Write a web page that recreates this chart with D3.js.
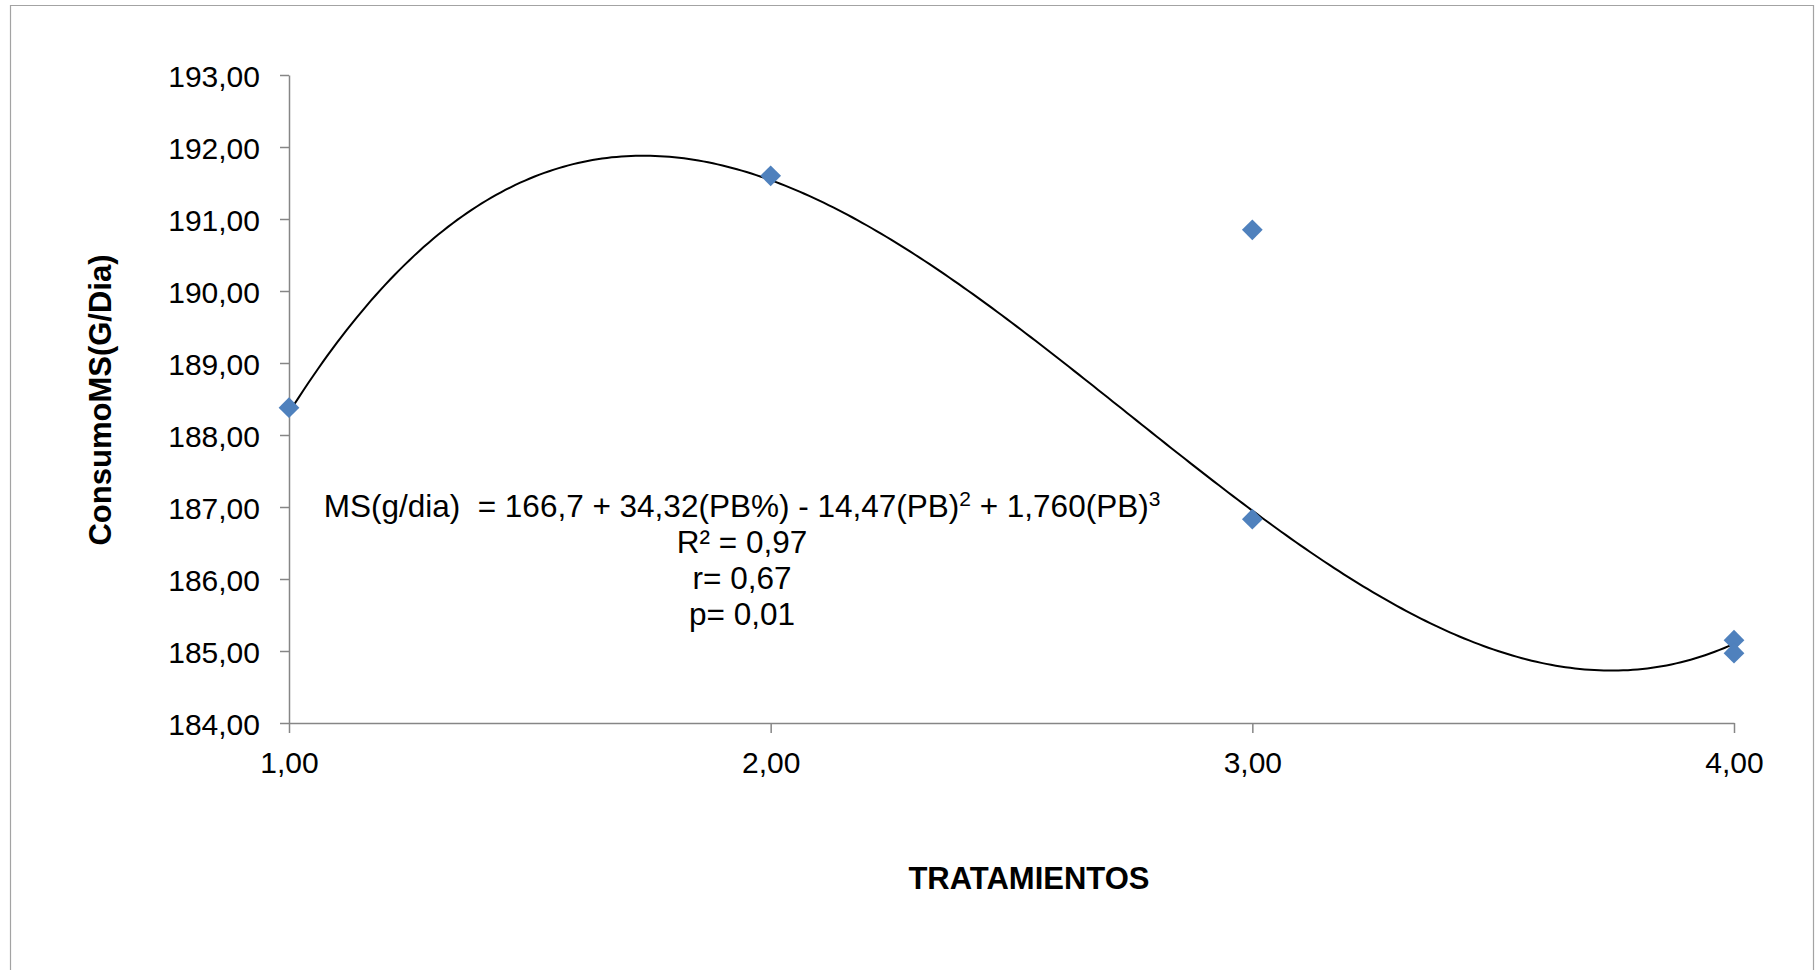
<!DOCTYPE html>
<html>
<head>
<meta charset="utf-8">
<script src="https://cdn.jsdelivr.net/npm/d3@7"></script>
<style>
  body { margin: 0; background: #fff; }
  svg { display: block; font-family: "Liberation Sans", Arial, sans-serif; }
</style>
</head>
<body>
<svg id="chart" width="1816" height="970"></svg>
<script>
// values
const tratamientos = [1, 2, 3, 3, 4, 4];
const consumoMS = [188.38, 191.60, 190.85, 186.83, 185.15, 184.97];
const xTicks = [1, 2, 3, 4];
const yTicks = [184, 185, 186, 187, 188, 189, 190, 191, 192, 193];
// cubic trend line, coefficients as printed on the chart (a + b*x + c*x^2 + d*x^3)
const coef = [166.7, 34.32, -14.47, 1.760];
const eqLines = ["R² = 0,97", "r= 0,67", "p= 0,01"];

const width = 1816, height = 970;
const plot = { left: 289, right: 1734, top: 75, bottom: 723 };

const svg = d3.select('#chart');

// spanish style decimals
const es = d3.formatLocale({ decimal: ",", thousands: ".", grouping: [3], currency: ["", "€"] });
const fmt = es.format(".2f");

const x = d3.scaleLinear().domain([1, 4]).range([plot.left, plot.right]);
const y = d3.scaleLinear().domain([184, 193]).range([plot.bottom, plot.top]);

// outer frame (bottom edge falls outside the picture)
svg.append('path')
  .attr('d', `M10.5,${height} V5.5 H1813.5 V${height}`)
  .attr('fill', 'none')
  .attr('stroke', '#a3a3a3')
  .attr('stroke-width', 1.2);

const yAxis = svg.append('g')
  .attr('transform', `translate(${plot.left},0)`)
  .call(d3.axisLeft(y).tickValues(yTicks).tickFormat(fmt).tickSize(9).tickSizeOuter(0).tickPadding(20));

const xAxis = svg.append('g')
  .attr('transform', `translate(0,${plot.bottom})`)
  .call(d3.axisBottom(x).tickValues(xTicks).tickFormat(fmt).tickSize(10).tickSizeOuter(0).tickPadding(19));

[yAxis, xAxis].forEach(g => {
  g.select('.domain').attr('stroke', '#868686').attr('stroke-width', 1.5);
  g.selectAll('.tick line').attr('stroke', '#868686').attr('stroke-width', 1.5);
  g.selectAll('.tick text')
    .attr('fill', '#000')
    .style('font-size', '30px')
    .style('font-family', '"Liberation Sans", Arial, sans-serif');
});
yAxis.selectAll('.tick text').attr('dy', '0.38em');

// trend line
const poly = t => coef[0] + coef[1] * t + coef[2] * t * t + coef[3] * t * t * t;
const trend = d3.range(1, 4.0001, 0.01).map(t => [t, poly(t)]);

svg.append('path')
  .datum(trend)
  .attr('fill', 'none')
  .attr('stroke', '#000')
  .attr('stroke-width', 2)
  .attr('d', d3.line().x(d => x(d[0])).y(d => y(d[1])));

// diamond markers
const diamond = d3.symbol().type(d3.symbolSquare).size(215);
svg.selectAll('.pt')
  .data(tratamientos.map((t, i) => ({ t: t, v: consumoMS[i] })))
  .enter().append('path')
  .attr('class', 'pt')
  .attr('d', diamond)
  .attr('fill', '#4F81BD')
  .attr('transform', d => `translate(${x(d.t)},${y(d.v)}) rotate(45)`);

// equation text
const cx = 742;
const eq = svg.append('text')
  .attr('x', cx)
  .attr('y', 517)
  .attr('text-anchor', 'middle')
  .style('font-size', '31.5px')
  .style('white-space', 'pre');
eq.append('tspan').text('MS(g/dia)  = 166,7 + 34,32(PB%) - 14,47(PB)');
eq.append('tspan').attr('dy', -11).style('font-size', '21px').text('2');
eq.append('tspan').attr('dy', 11).text(' + 1,760(PB)');
eq.append('tspan').attr('dy', -11).style('font-size', '21px').text('3');

svg.selectAll('.eqline')
  .data(eqLines)
  .enter().append('text')
  .attr('class', 'eqline')
  .attr('x', cx)
  .attr('y', (d, i) => 553 + i * 36)
  .attr('text-anchor', 'middle')
  .style('font-size', '31.5px')
  .text(d => d);

// axis titles
svg.append('text')
  .attr('x', 1029)
  .attr('y', 889)
  .attr('text-anchor', 'middle')
  .style('font-size', '31px')
  .style('font-weight', 'bold')
  .text('TRATAMIENTOS');

svg.append('text')
  .attr('transform', 'translate(111,400) rotate(-90)')
  .attr('text-anchor', 'middle')
  .style('font-size', '31px')
  .style('font-weight', 'bold')
  .text('ConsumoMS(G/Dia)');
</script>
</body>
</html>
